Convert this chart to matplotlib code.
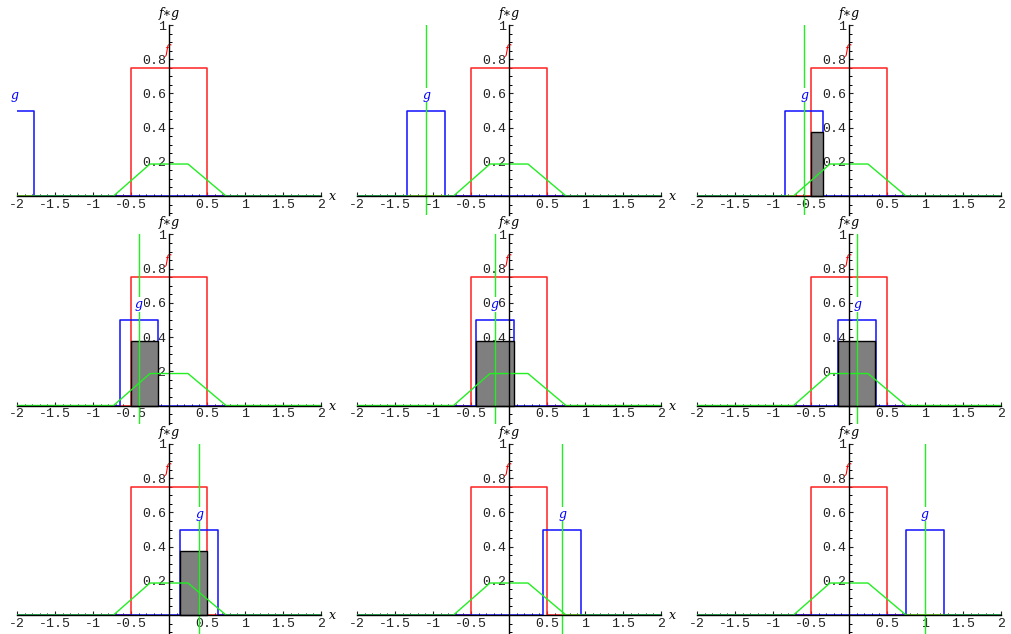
import numpy as np
import matplotlib.pyplot as plt
from matplotlib.ticker import FixedLocator, MultipleLocator

# значення зсуву t для кожної панелі
shifts = [-2.03, -1.09, -0.59, -0.395, -0.19, 0.11, 0.4, 0.7, 1.0]
# перекриття f і g (сіра область), None - немає
shade_lo = [None, None, -0.5, -0.5, -0.44, -0.14, 0.15, None, None]
shade_hi = [None, None, -0.34, -0.15, 0.06, 0.34, 0.5, None, None]

f_height = 0.75
f_left, f_right = -0.5, 0.5
g_height = 0.5
g_half = 0.25
prod_height = 0.375

# згортка f*g (вершини трапеції)
conv_x = [-2, -0.73, -0.25, 0.25, 0.75, 2]
conv_y = [0, 0, 0.187, 0.187, 0, 0]

xticks = [-2, -1.5, -1, -0.5, 0.5, 1, 1.5, 2]
xtick_labels = ['-2', '-1.5', '-1', '-0.5', '0.5', '1', '1.5', '2']
yticks = [0.2, 0.4, 0.6, 0.8, 1.0]
ytick_labels = ['0.2', '0.4', '0.6', '0.8', '1']

W, H = 1011, 634
fig = plt.figure(figsize=(W / 100, H / 100), dpi=100)

ymin, ymax = -0.11, 1.0
unit_y = 171.0
for i, t in enumerate(shifts):
    r, c = divmod(i, 3)
    x0 = 17 + 340 * c
    y_zero = 196 + 209.5 * r
    bottom = H - (y_zero - ymin * unit_y)
    ax = fig.add_axes([x0 / W, bottom / H, 304 / W, (ymax - ymin) * unit_y / H])
    ax.set_xlim(-2, 2)
    ax.set_ylim(ymin, ymax)
    ax.patch.set_alpha(0)

    # f - червоний прямокутник
    ax.plot([-2, f_left, f_left, f_right, f_right, 2],
            [0, 0, f_height, f_height, 0, 0], color='#ff2020', lw=1.1, zorder=2)
    # g - синій прямокутник навколо t
    gl, gr = t - g_half, t + g_half
    ax.plot([-2.5, gl, gl, gr, gr, 2.5],
            [0, 0, g_height, g_height, 0, 0], color='#1010ff', lw=1.1, zorder=3)
    # сіра область f(x)g(t-x)
    if shade_lo[i] is not None:
        ax.fill_between([shade_lo[i], shade_hi[i]], 0, prod_height,
                        facecolor='#7f7f7f', edgecolor='black', lw=1.0, zorder=4)
    # згортка
    ax.plot(conv_x, conv_y, color='#22ee22', lw=1.0, zorder=5)
    # вертикальна лінія в точці t
    ax.plot([t, t], [ymin, 1.0], color='#22ee22', lw=1.0, zorder=5)

    ax.text(t, 0.59, 'g', color='blue', fontsize=9, style='italic',
            family='DejaVu Serif', ha='center', va='center', clip_on=False,
            zorder=6, bbox=dict(facecolor='white', edgecolor='none', pad=0.5))
    ax.text(-0.02, 0.85, 'f', color='red', fontsize=9, style='italic',
            family='DejaVu Serif', ha='center', va='center', zorder=6)
    ax.text(0, 1.07, 'f\u2217g', fontsize=9, style='italic',
            family='DejaVu Serif', ha='center', va='center', clip_on=False)
    if c < 2:
        ax.text(2.15, -0.005, 'x', fontsize=9, style='italic',
                family='DejaVu Serif', ha='center', va='center', clip_on=False)

    # осі через нуль
    ax.spines['left'].set_position('zero')
    ax.spines['bottom'].set_position('zero')
    ax.spines['top'].set_visible(False)
    ax.spines['right'].set_visible(False)
    for s in ('left', 'bottom'):
        ax.spines[s].set_linewidth(1.0)
        ax.spines[s].set_zorder(7)
    ax.xaxis.set_major_locator(FixedLocator(xticks))
    ax.set_xticklabels(xtick_labels)
    ax.xaxis.set_minor_locator(MultipleLocator(0.1))
    ax.yaxis.set_major_locator(FixedLocator(yticks))
    ax.set_yticklabels(ytick_labels)
    ax.yaxis.set_minor_locator(MultipleLocator(0.05))
    ax.tick_params(which='major', direction='in', length=3, width=0.8,
                   labelsize=9.5, pad=2, colors='#222222')
    ax.tick_params(which='minor', direction='in', length=1.8, width=0.7)
    for lab in ax.get_xticklabels() + ax.get_yticklabels():
        lab.set_family('Liberation Mono')

fig.savefig('out.png', dpi=100)
